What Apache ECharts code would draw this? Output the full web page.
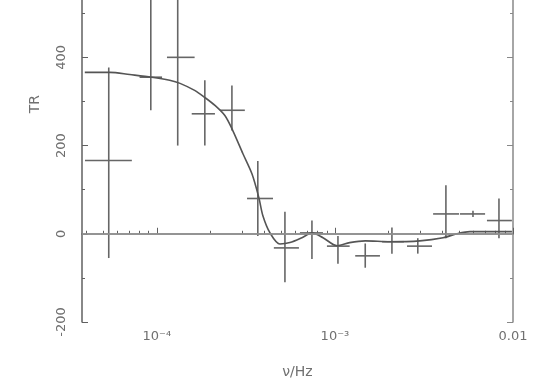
<!DOCTYPE html>
<html>
<head>
<meta charset="utf-8">
<script src="https://cdn.jsdelivr.net/npm/echarts@6/dist/echarts.min.js"></script>
<style>html,body{margin:0;padding:0;background:#fff}#c{width:534px;height:379px}</style>
</head>
<body>
<div id="c"></div>
<script>
// measured points (frequency in Hz, value)
var freq   = [5.37e-5, 9.25e-5, 1.31e-4, 1.86e-4, 2.64e-4, 3.69e-4, 5.24e-4, 7.43e-4, 1.04e-3, 1.48e-3, 2.09e-3, 2.92e-3, 4.20e-3, 5.96e-3, 8.34e-3];
var freqLo = [3.95e-5, 8.0e-5, 1.14e-4, 1.57e-4, 2.26e-4, 3.21e-4, 4.54e-4, 6.36e-4, 9.02e-4, 1.30e-3, 1.84e-3, 2.54e-3, 3.56e-3, 5.04e-3, 7.14e-3];
var freqHi = [7.24e-5, 1.07e-4, 1.63e-4, 2.12e-4, 3.12e-4, 4.49e-4, 6.28e-4, 8.57e-4, 1.21e-3, 1.79e-3, 2.44e-3, 3.51e-3, 4.98e-3, 6.97e-3, 9.86e-3];
var tr     = [166, 355, 400, 272, 280, 80, -32, 2, -28, -50, -18, -28, 45, 45, 30];
var trLo   = [-55, 280, 200, 200, 234, -5, -110, -57, -68, -77, -45, -45, -10, 38, -10];
var trHi   = [377, 560, 600, 348, 336, 165, 50, 30, -5, -22, 14, -10, 110, 52, 80];

// model curve
var curveF = [3.94e-5, 5.45e-5, 7.05e-5, 9.37e-5, 1.18e-4, 1.35e-4, 1.63e-4, 1.86e-4, 2.12e-4, 2.41e-4, 2.67e-4, 3.04e-4, 3.42e-4, 3.74e-4, 3.94e-4, 4.32e-4, 4.91e-4, 5.59e-4, 6.53e-4, 7.43e-4, 8.57e-4, 1.03e-3, 1.21e-3, 1.48e-3, 2.04e-3, 3.00e-3, 4.05e-3, 4.84e-3, 5.73e-3, 7.42e-3, 9.86e-3];
var curveV = [366, 366, 361, 355, 348, 341, 325, 309, 291, 268, 234, 182, 136, 82, 41, 2, -23, -20, -9, 2, -9, -27, -20, -16, -18, -16, -9, 0, 5, 5, 5];

var xMajor = [1e-4, 1e-3, 1e-2];
var xMajorLabels = ['10\u207B\u2074', '10\u207B\u00B3', '0.01'];
var xMinor = [4e-5,5e-5,6e-5,7e-5,8e-5,9e-5,2e-4,3e-4,4e-4,5e-4,6e-4,7e-4,8e-4,9e-4,2e-3,3e-3,4e-3,5e-3,6e-3,7e-3,8e-3,9e-3];
var yTicks = [-200, 0, 200, 400];
var yMinor = [-100, 100, 300, 500];

var ink = '#606060';
var txt = '#707070';
var chart = echarts.init(document.getElementById('c'));

var pts = freq.map(function(f, i){ return [f, tr[i], freqLo[i], freqHi[i], trLo[i], trHi[i]]; });
var curve = curveF.map(function(f, i){ return [f, curveV[i]]; });

function yAx(pos, ticks, len, showLine, showLabel, col){
  return {
    type: 'value', min: -200, max: 530, interval: 100, position: pos,
    axisLine: {show: showLine, lineStyle: {color: col, width: 1.5}},
    axisTick: {inside: true, length: len, lineStyle: {color: col}, customValues: ticks},
    axisLabel: {show: showLabel, color: txt, fontSize: 13, fontFamily: 'DejaVu Sans', rotate: 90, margin: 14, customValues: ticks},
    splitLine: {show: false}
  };
}

chart.setOption({
  animation: false,
  grid: {left: 82, right: 21, top: 0, bottom: 57, outerBoundsMode: 'none', containLabel: false},
  xAxis: [{
    type: 'log', min: 3.8e-5, max: 0.01, logBase: 10,
    axisLine: {lineStyle: {color: ink, width: 1.5}},
    axisTick: {inside: true, length: 6, lineStyle: {color: ink}, customValues: xMajor},
    axisLabel: {color: txt, fontSize: 13, fontFamily: 'DejaVu Sans', margin: 8,
      customValues: xMajor,
      formatter: function(v){ var i = xMajor.findIndex(function(m){return Math.abs(Math.log10(m)-Math.log10(v))<1e-6;}); return i>=0 ? xMajorLabels[i] : ''; }},
    splitLine: {show: false},
    name: '\u03BD/Hz', nameLocation: 'middle', nameGap: 43,
    nameTextStyle: {color: txt, fontSize: 14, fontFamily: 'DejaVu Sans'}
  }, {
    type: 'log', min: 3.8e-5, max: 0.01, logBase: 10, position: 'bottom',
    axisLine: {show: false},
    axisTick: {inside: true, length: 3, lineStyle: {color: ink}, customValues: xMinor},
    axisLabel: {show: false}, splitLine: {show: false}
  }],
  yAxis: [
    yAx('left', yTicks, 6, true, true, ink),
    yAx('left', yMinor, 3, false, false, ink),
    yAx('right', yTicks, 6, true, false, '#888'),
    yAx('right', yMinor, 3, false, false, '#888')
  ],
  graphic: [{
    type: 'text', left: 28, top: 95, rotation: Math.PI/2,
    style: {text: 'TR', fill: txt, fontSize: 14, fontFamily: 'DejaVu Sans'}
  }],
  series: [{
    type: 'line', data: curve, showSymbol: false, smooth: 0.3,
    lineStyle: {color: '#555', width: 1.6},
    markLine: {symbol: 'none', silent: true, label: {show: false},
      lineStyle: {color: '#999', width: 1.5, type: 'solid'}, data: [{yAxis: 0}]}
  }, {
    type: 'custom', clip: true, data: pts,
    renderItem: function(params, api){
      var c = api.coord([api.value(0), api.value(1)]);
      var xl = api.coord([api.value(2), api.value(1)]);
      var xh = api.coord([api.value(3), api.value(1)]);
      var yl = api.coord([api.value(0), api.value(4)]);
      var yh = api.coord([api.value(0), api.value(5)]);
      var st = {stroke: '#666', lineWidth: 1.6};
      return {type: 'group', children: [
        {type: 'line', shape: {x1: xl[0], y1: c[1], x2: xh[0], y2: c[1]}, style: st},
        {type: 'line', shape: {x1: c[0], y1: yl[1], x2: c[0], y2: yh[1]}, style: st}
      ]};
    }
  }]
});
</script>
</body>
</html>
